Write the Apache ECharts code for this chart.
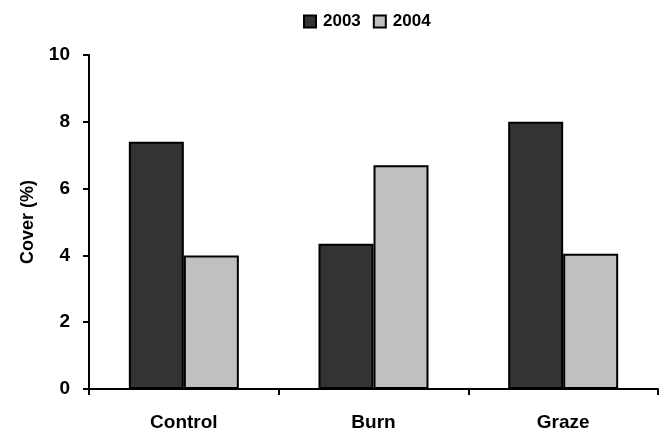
<!DOCTYPE html>
<html>
<head>
<meta charset="utf-8">
<script src="https://cdn.jsdelivr.net/npm/echarts@6/dist/echarts.min.js"></script>
<style>
html,body{margin:0;padding:0;background:#fff;}
#c{width:667px;height:438px;}
</style>
</head>
<body>
<div id="c"></div>
<script>
var categories = ['Control', 'Burn', 'Graze'];
var seriesNames = ['2003', '2004'];
var values2003 = [7.4, 4.35, 8.0];
var values2004 = [4.0, 6.7, 4.05];
var yTicks = [0, 2, 4, 6, 8, 10];

var FONT = '"Liberation Sans", Arial, sans-serif';
var chart = echarts.init(document.getElementById('c'), null, {renderer: 'canvas'});
chart.setOption({
  animation: false,
  backgroundColor: '#ffffff',
  legend: {
    data: seriesNames,
    left: 298,
    top: 8,
    itemWidth: 12,
    itemHeight: 12,
    itemGap: 12,
    icon: 'rect',
    itemStyle: {borderColor: '#000', borderWidth: 2},
    textStyle: {fontFamily: FONT, fontWeight: 'bold', fontSize: 17, color: '#000', padding: [0, 0, 0, 2]}
  },
  grid: {left: 89, right: 9, top: 55, bottom: 49, containLabel: false},
  xAxis: {
    type: 'category',
    data: categories,
    boundaryGap: true,
    axisLine: {lineStyle: {color: '#000', width: 2}},
    axisTick: {show: true, inside: false, length: 6, lineStyle: {color: '#000', width: 2}},
    axisLabel: {margin: 24, fontFamily: FONT, fontWeight: 'bold', fontSize: 19, color: '#000'},
    splitLine: {show: false}
  },
  yAxis: {
    type: 'value',
    min: yTicks[0],
    max: yTicks[yTicks.length - 1],
    interval: yTicks[1] - yTicks[0],
    name: 'Cover (%)',
    nameLocation: 'middle',
    nameGap: 52,
    nameRotate: 90,
    nameTextStyle: {fontFamily: FONT, fontWeight: 'bold', fontSize: 18, color: '#000'},
    axisLine: {show: true, lineStyle: {color: '#000', width: 2}},
    axisTick: {show: true, inside: false, length: 6, lineStyle: {color: '#000', width: 2}},
    axisLabel: {margin: 19, fontFamily: FONT, fontWeight: 'bold', fontSize: 19, color: '#000'},
    splitLine: {show: false}
  },
  series: [
    {
      name: seriesNames[0],
      type: 'bar',
      data: values2003,
      barGap: '0%',
      barCategoryGap: '42%',
      itemStyle: {color: '#333333', borderColor: '#000', borderWidth: 2}
    },
    {
      name: seriesNames[1],
      type: 'bar',
      data: values2004,
      barGap: '0%',
      barCategoryGap: '42%',
      itemStyle: {color: '#c0c0c0', borderColor: '#000', borderWidth: 2}
    }
  ]
});
</script>
</body>
</html>
